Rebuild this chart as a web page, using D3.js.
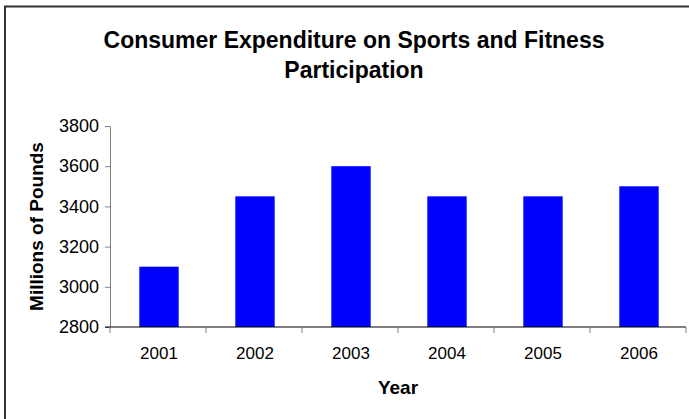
<!DOCTYPE html>
<html>
<head>
<meta charset="utf-8">
<script src="https://cdn.jsdelivr.net/npm/d3@7"></script>
<style>
  html, body { margin: 0; padding: 0; background: #fff; }
  svg { display: block; font-family: "Liberation Sans", Arial, sans-serif; }
</style>
</head>
<body>
<svg id="chart" width="689" height="419"></svg>
<script>
// Consumer expenditure on sports and fitness participation, millions of pounds
const years = ["2001", "2002", "2003", "2004", "2005", "2006"];
const spending = [3100, 3450, 3600, 3450, 3450, 3500];
const yTicks = [2800, 3000, 3200, 3400, 3600, 3800];
const titleLines = ["Consumer Expenditure on Sports and Fitness", "Participation"];

const svg = d3.select("#chart");
const margin = { left: 110, right: 3, top: 126, bottom: 92 };
const W = 689, H = 419;

// chart area frame (left and top edges)
svg.append("path")
  .attr("d", `M5,${H} V6.5 H${W}`)
  .attr("fill", "none")
  .attr("stroke", "#333")
  .attr("stroke-width", 2);

const x = d3.scaleBand()
  .domain(years)
  .range([margin.left, W - margin.right])
  .paddingInner(0.59)
  .paddingOuter(0.295);

const y = d3.scaleLinear()
  .domain([2800, 3800])
  .range([H - margin.bottom, margin.top]);

// bars
svg.append("g")
  .selectAll("rect")
  .data(years)
  .join("rect")
  .attr("x", d => x(d) + 1)
  .attr("width", x.bandwidth())
  .attr("y", (d, i) => y(spending[i]))
  .attr("height", (d, i) => y(2800) - y(spending[i]))
  .attr("fill", "#0000ff");

// y axis
const yAxis = svg.append("g")
  .attr("transform", `translate(${margin.left},0)`)
  .call(d3.axisLeft(y).tickValues(yTicks).tickFormat(d3.format("d"))
    .tickSize(5).tickPadding(6).tickSizeOuter(0));
yAxis.select(".domain").attr("stroke", "#808080");
yAxis.selectAll(".tick line").attr("stroke", "#808080");
yAxis.selectAll("text")
  .attr("font-size", 18)
  .attr("fill", "#000")
  .attr("font-family", "Liberation Sans, Arial, sans-serif");

// x axis with ticks on category boundaries
const step = x.step();
const bounds = d3.range(years.length + 1).map(i => margin.left + i * step);
const xAxis = svg.append("g")
  .attr("transform", `translate(0,${y(2800)})`);
xAxis.append("line")
  .attr("x1", margin.left - 5).attr("x2", W - margin.right)
  .attr("stroke", "#000");
xAxis.selectAll("line.tk")
  .data(bounds)
  .join("line")
  .attr("class", "tk")
  .attr("x1", d => d).attr("x2", d => d)
  .attr("y1", 0).attr("y2", 6)
  .attr("stroke", "#808080");
xAxis.selectAll("text")
  .data(years)
  .join("text")
  .attr("x", d => x(d) + 1 + x.bandwidth() / 2)
  .attr("y", 32)
  .attr("text-anchor", "middle")
  .attr("font-size", 17)
  .text(d => d);

// title
svg.append("g")
  .selectAll("text")
  .data(titleLines)
  .join("text")
  .attr("x", 354)
  .attr("y", (d, i) => 48 + i * 30)
  .attr("text-anchor", "middle")
  .attr("font-size", 23)
  .attr("font-weight", "bold")
  .text(d => d);

// axis titles
svg.append("text")
  .attr("transform", `translate(43,${(y(2800) + y(3800)) / 2}) rotate(-90)`)
  .attr("text-anchor", "middle")
  .attr("font-size", 19)
  .attr("font-weight", "bold")
  .text("Millions of Pounds");

svg.append("text")
  .attr("x", (margin.left + W - margin.right) / 2)
  .attr("y", 394)
  .attr("text-anchor", "middle")
  .attr("font-size", 19)
  .attr("font-weight", "bold")
  .text("Year");
</script>
</body>
</html>
